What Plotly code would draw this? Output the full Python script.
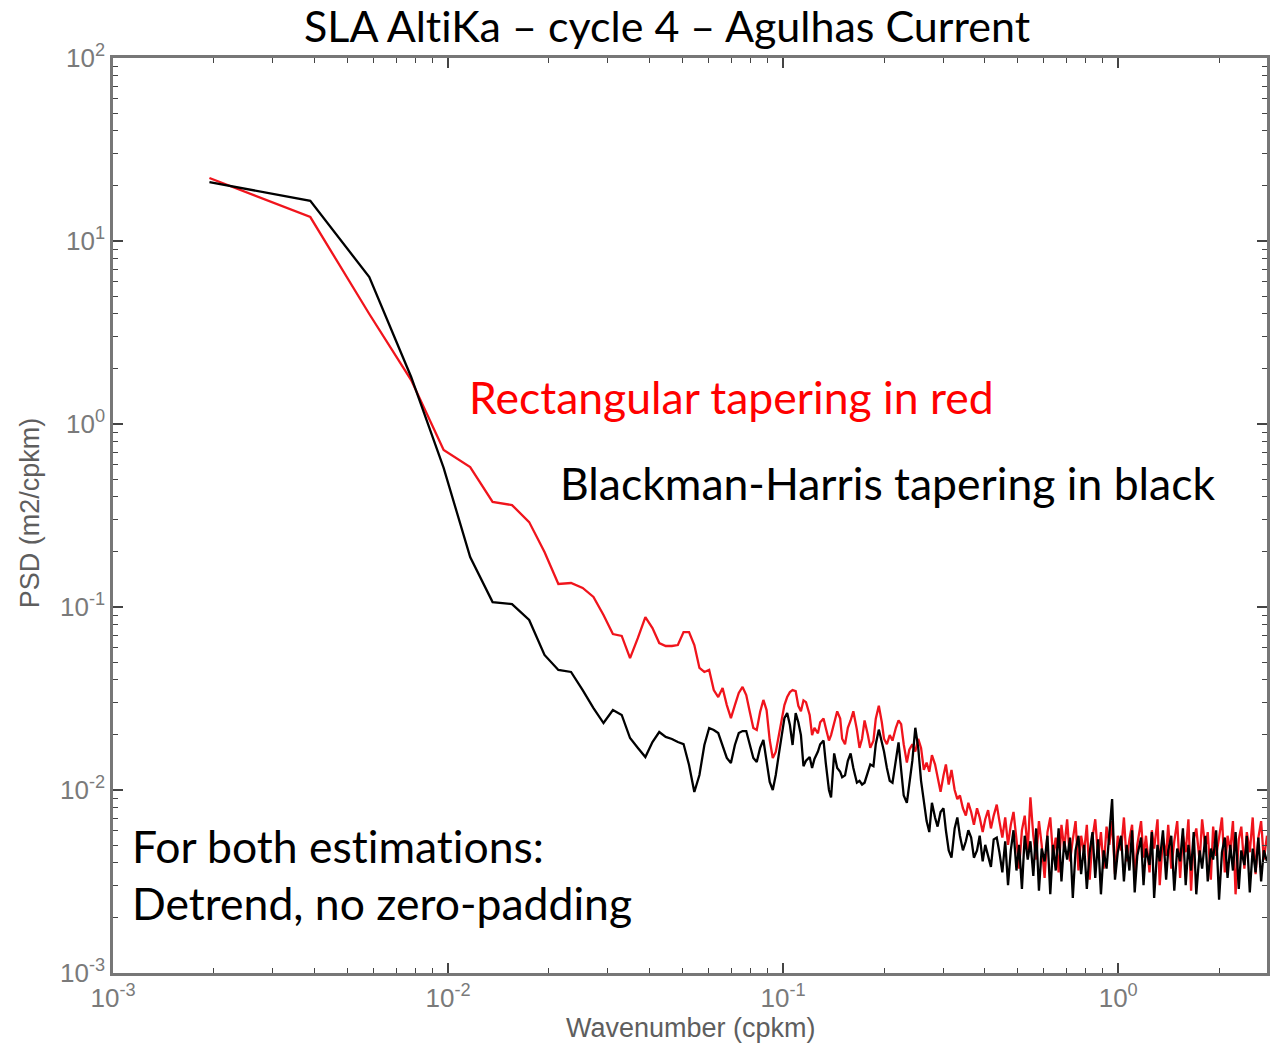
import numpy as np
import plotly.graph_objects as go

# Along-track wavenumber grid (cpkm): first bins individually, then the dense high-wavenumber part
wavenumber = [
    0.00194, 0.00388, 0.00582, 0.00776, 0.0097, 0.01164, 0.01358, 0.01552, 0.01746, 0.0194,
    0.02134, 0.02328, 0.02522, 0.02716, 0.0291, 0.03104, 0.03298, 0.03492, 0.03686, 0.0388,
    0.04074, 0.04268, 0.04462, 0.04656, 0.0485, 0.05044, 0.05238, 0.05432, 0.05626, 0.0582,
    0.06014, 0.06208, 0.06402, 0.06596, 0.0679, 0.06984, 0.07178, 0.07372, 0.07566, 0.0776,
    0.07954, 0.08148, 0.08342, 0.08536, 0.0873, 0.08924, 0.09118, 0.09312, 0.09506, 0.097,
    0.09894, 0.10088, 0.10282, 0.10476, 0.1067,
    0.109, 0.111, 0.113, 0.115, 0.117, 0.120, 0.122, 0.124, 0.127, 0.129,
    0.132, 0.134, 0.137, 0.139, 0.142, 0.145, 0.148, 0.150, 0.153, 0.156,
    0.159, 0.162, 0.166, 0.169, 0.172, 0.175, 0.179, 0.182, 0.186, 0.189,
    0.193, 0.197, 0.200, 0.204, 0.208, 0.212, 0.217, 0.221, 0.225, 0.229,
    0.234, 0.238, 0.243, 0.248, 0.253, 0.258, 0.263, 0.268, 0.273, 0.278,
    0.284, 0.289, 0.295, 0.301, 0.306, 0.312, 0.318, 0.325, 0.331, 0.337,
    0.344, 0.351, 0.357, 0.364, 0.371, 0.379, 0.386, 0.394, 0.401, 0.409,
    0.417, 0.425, 0.434, 0.442, 0.451, 0.460, 0.469, 0.478, 0.487, 0.497,
    0.506, 0.516, 0.526, 0.537, 0.547, 0.558, 0.569, 0.580, 0.591, 0.603,
    0.615, 0.627, 0.639, 0.651, 0.664, 0.677, 0.690, 0.704, 0.718, 0.732,
    0.746, 0.761, 0.775, 0.791, 0.806, 0.822, 0.838, 0.854, 0.871, 0.888,
    0.905, 0.923, 0.941, 0.959, 0.978, 0.997, 1.02, 1.04, 1.06, 1.08,
    1.10, 1.12, 1.14, 1.17, 1.19, 1.21, 1.24, 1.26, 1.28, 1.31,
    1.33, 1.36, 1.39, 1.41, 1.44, 1.47, 1.50, 1.53, 1.56, 1.59,
    1.62, 1.65, 1.68, 1.71, 1.75, 1.78, 1.82, 1.85, 1.89, 1.92,
    1.96, 2.00, 2.04, 2.08, 2.12, 2.16, 2.20, 2.24, 2.29, 2.33,
    2.38, 2.42, 2.47, 2.52, 2.57, 2.62, 2.67, 2.72, 2.78,
]

# log10 of the PSD (m2/cpkm), rectangular taper
log10_psd_rectangular = [
    1.344, 1.131, 0.601, 0.240, -0.142, -0.235, -0.426, -0.443, -0.536, -0.699,
    -0.874, -0.869, -0.896, -0.945, -1.044, -1.148, -1.158, -1.279, -1.169, -1.055,
    -1.115, -1.197, -1.213, -1.213, -1.208, -1.137, -1.137, -1.208, -1.333, -1.355,
    -1.344, -1.454, -1.492, -1.443, -1.536, -1.607, -1.536, -1.470, -1.437, -1.481,
    -1.574, -1.661, -1.672, -1.574, -1.508, -1.563, -1.727, -1.825, -1.792, -1.699,
    -1.607, -1.536, -1.492, -1.465, -1.454,
    -1.46, -1.54, -1.57, -1.51, -1.52, -1.59, -1.70, -1.66, -1.69, -1.63,
    -1.61, -1.66, -1.73, -1.70, -1.63, -1.57, -1.61, -1.72, -1.75, -1.66,
    -1.62, -1.57, -1.67, -1.77, -1.72, -1.62, -1.70, -1.77, -1.73, -1.61,
    -1.54, -1.63, -1.72, -1.75, -1.70, -1.73, -1.66, -1.62, -1.64, -1.75,
    -1.85, -1.78, -1.75, -1.79, -1.72, -1.77, -1.89, -1.85, -1.90, -1.81,
    -1.86, -1.93, -2.01, -1.92, -1.86, -1.97, -1.89, -2.00, -2.05, -2.03,
    -2.10, -2.14, -2.07, -2.12, -2.19, -2.10, -2.15, -2.23, -2.16, -2.11,
    -2.21, -2.14, -2.08, -2.17, -2.26, -2.15, -2.30, -2.19, -2.12, -2.27,
    -2.43, -2.22, -2.14, -2.33, -2.04, -2.25, -2.38, -2.17, -2.30, -2.48,
    -2.23, -2.15, -2.36, -2.26, -2.45, -2.19, -2.32, -2.16, -2.39, -2.27,
    -2.17, -2.44, -2.25, -2.34, -2.19, -2.49, -2.26, -2.16, -2.37, -2.23,
    -2.43, -2.20, -2.30, -2.17, -2.46, -2.25, -2.33, -2.15, -2.39, -2.27,
    -2.19, -2.49, -2.30, -2.17, -2.37, -2.25, -2.45, -2.22, -2.32, -2.16,
    -2.52, -2.26, -2.36, -2.19, -2.43, -2.28, -2.17, -2.48, -2.25, -2.34,
    -2.16, -2.55, -2.27, -2.21, -2.39, -2.16, -2.32, -2.23, -2.49, -2.20,
    -2.36, -2.26, -2.15, -2.45, -2.25, -2.33, -2.17, -2.57, -2.27, -2.20,
    -2.43, -2.23, -2.34, -2.15, -2.46, -2.26, -2.17, -2.38, -2.25,
]

# log10 of the PSD (m2/cpkm), Blackman-Harris taper
log10_psd_blackman_harris = [
    1.322, 1.219, 0.803, 0.257, -0.240, -0.727, -0.973, -0.984, -1.071, -1.262,
    -1.344, -1.355, -1.454, -1.552, -1.634, -1.563, -1.590, -1.716, -1.770, -1.820,
    -1.738, -1.683, -1.710, -1.721, -1.738, -1.749, -1.863, -2.011, -1.918, -1.754,
    -1.661, -1.672, -1.689, -1.754, -1.825, -1.852, -1.754, -1.689, -1.678, -1.678,
    -1.754, -1.825, -1.847, -1.770, -1.727, -1.836, -1.956, -2.000, -1.918, -1.809,
    -1.699, -1.607, -1.579, -1.645, -1.754,
    -1.58, -1.63, -1.70, -1.87, -1.84, -1.82, -1.88, -1.83, -1.79, -1.75,
    -1.73, -1.85, -2.00, -2.04, -1.80, -1.88, -1.90, -1.93, -1.92, -1.84,
    -1.80, -1.88, -1.96, -1.95, -1.97, -1.96, -1.90, -1.86, -1.87, -1.75,
    -1.67, -1.74, -1.79, -1.88, -1.95, -1.96, -1.84, -1.74, -1.89, -2.03,
    -2.07, -1.97, -1.84, -1.66, -1.77, -1.95, -2.05, -2.17, -2.23, -2.07,
    -2.15, -2.20, -2.12, -2.10, -2.22, -2.33, -2.37, -2.21, -2.15, -2.25,
    -2.33, -2.28, -2.22, -2.26, -2.37, -2.33, -2.25, -2.39, -2.30, -2.36,
    -2.42, -2.27, -2.26, -2.34, -2.45, -2.28, -2.52, -2.33, -2.22, -2.44,
    -2.30, -2.54, -2.25, -2.38, -2.28, -2.47, -2.21, -2.55, -2.32, -2.39,
    -2.25, -2.57, -2.30, -2.44, -2.21, -2.50, -2.28, -2.38, -2.26, -2.59,
    -2.33, -2.25, -2.46, -2.30, -2.54, -2.34, -2.23, -2.48, -2.27, -2.57,
    -2.33, -2.43, -2.26, -2.05, -2.49, -2.34, -2.25, -2.50, -2.30, -2.44,
    -2.22, -2.56, -2.36, -2.26, -2.52, -2.32, -2.41, -2.23, -2.59, -2.30,
    -2.39, -2.22, -2.49, -2.33, -2.25, -2.55, -2.32, -2.39, -2.21, -2.52,
    -2.30, -2.44, -2.23, -2.57, -2.33, -2.43, -2.25, -2.50, -2.32, -2.38,
    -2.22, -2.60, -2.34, -2.26, -2.48, -2.30, -2.44, -2.23, -2.54, -2.33,
    -2.41, -2.25, -2.56, -2.32, -2.45, -2.26, -2.50, -2.33, -2.39,
]

x_major_ticks = [1e-3, 1e-2, 1e-1, 1e0]
x_major_labels = ["10<sup>-3</sup>", "10<sup>-2</sup>", "10<sup>-1</sup>", "10<sup>0</sup>"]
y_major_ticks = [1e-3, 1e-2, 1e-1, 1e0, 1e1, 1e2]
y_major_labels = ["10<sup>-3</sup>", "10<sup>-2</sup>", "10<sup>-1</sup>",
                  "10<sup>0</sup>", "10<sup>1</sup>", "10<sup>2</sup>"]

psd_rect = 10 ** np.array(log10_psd_rectangular)
psd_bh = 10 ** np.array(log10_psd_blackman_harris)


def minor_log_ticks(lo_exp, hi_exp):
    return [m * 10.0 ** e for e in range(lo_exp, hi_exp) for m in range(2, 10)]


# page geometry of the plotting frame (px)
W, H = 1272, 1046
L, R, T, B = 113, 1270, 58, 973


def px(x):
    return (x - L) / (R - L)


def py(y):
    return (B - y) / (B - T)


fig = go.Figure()
fig.add_trace(go.Scatter(x=wavenumber, y=psd_rect, mode="lines",
                         line=dict(color="#f0141c", width=2.3),
                         name="Rectangular", showlegend=False))
fig.add_trace(go.Scatter(x=wavenumber, y=psd_bh, mode="lines",
                         line=dict(color="#000000", width=2.3),
                         name="Blackman-Harris", showlegend=False))

axis_common = dict(
    type="log", showgrid=False, zeroline=False,
    showline=True, linecolor="#777777", linewidth=2.5, mirror="allticks",
    ticks="inside", ticklen=10, tickwidth=1.5, tickcolor="#444444",
    tickfont=dict(family="Liberation Sans, Arial, sans-serif", size=26, color="#7a7a7a"),
)

fig.update_xaxes(
    range=[-3, np.log10(2.78)],
    tickvals=x_major_ticks, ticktext=x_major_labels,
    minor=dict(tickvals=minor_log_ticks(-3, 1), ticks="inside", ticklen=5,
               tickcolor="#444444", tickwidth=1.3),
    **axis_common,
)
fig.update_yaxes(
    range=[-3, 2],
    tickvals=y_major_ticks, ticktext=y_major_labels,
    minor=dict(tickvals=minor_log_ticks(-3, 2), ticks="inside", ticklen=5,
               tickcolor="#444444", tickwidth=1.3),
    **axis_common,
)

label_font = dict(family="Liberation Sans, Arial, sans-serif", size=27, color="#5e5e5e")
text_font = "Lato, Open Sans, sans-serif"
ZWNJ = "\u200c"  # keeps the "t" and "i" glyphs apart

annotations = [
    dict(text=f"SLA Alt{ZWNJ}iKa – cycle 4 – Agulhas Current", x=px(668), y=py(25),
         xanchor="center", yanchor="middle",
         font=dict(family=text_font, size=43, color="#000000")),
    dict(text="Rectangular tapering in red", x=px(468), y=py(397),
         xanchor="left", yanchor="middle",
         font=dict(family=text_font, size=44.5, color="#ff0000")),
    dict(text="Blackman-Harris tapering in black", x=px(559), y=py(483),
         xanchor="left", yanchor="middle",
         font=dict(family=text_font, size=44.5, color="#000000")),
    dict(text=f"For both est{ZWNJ}imat{ZWNJ}ions:", x=px(130), y=py(845),
         xanchor="left", yanchor="middle",
         font=dict(family=text_font, size=44.5, color="#000000")),
    dict(text="Detrend, no zero-padding", x=px(130), y=py(902),
         xanchor="left", yanchor="middle",
         font=dict(family=text_font, size=44.5, color="#000000")),
    dict(text="PSD (m2/cpkm)", x=px(30), y=py(513), textangle=-90,
         xanchor="center", yanchor="middle", font=label_font),
    dict(text="Wavenumber (cpkm)", x=px(693), y=py(1028),
         xanchor="center", yanchor="middle", font=label_font),
]
for a in annotations:
    a.update(xref="paper", yref="paper", showarrow=False)

fig.update_layout(
    width=W, height=H,
    margin=dict(l=L, r=W - R, t=T, b=H - B),
    paper_bgcolor="#ffffff", plot_bgcolor="#ffffff",
    annotations=annotations,
    showlegend=False,
)

fig.write_html("out.html")
